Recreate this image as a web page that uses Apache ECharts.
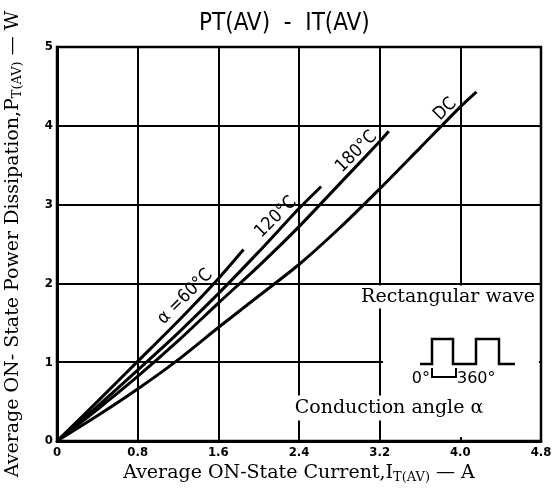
<!DOCTYPE html>
<html>
<head>
<meta charset="utf-8">
<script src="https://cdn.jsdelivr.net/npm/echarts@6/dist/echarts.min.js"></script>
<style>
  html, body { margin: 0; padding: 0; background: #fff; }
  #chart { width: 553px; height: 493px; }
</style>
</head>
<body>
<div id="chart"></div>
<script>
// 读图得到的曲线数据 (I_T(AV) [A], P_T(AV) [W])
var xTicks = [0, 0.8, 1.6, 2.4, 3.2, 4.0, 4.8];
var yTicks = [0, 1, 2, 3, 4, 5];

var curve60 = [[0, 0], [0.4, 0.5], [0.8, 1.01], [1.2, 1.52], [1.6, 2.06], [1.85, 2.43]];
var curve120 = [[0, 0], [0.4, 0.44], [0.8, 0.9], [1.2, 1.37], [1.6, 1.87], [2.0, 2.4], [2.4, 2.95], [2.62, 3.23]];
var curve180 = [[0, 0], [0.4, 0.4], [0.8, 0.82], [1.2, 1.27], [1.6, 1.75], [2.0, 2.22], [2.4, 2.72], [2.8, 3.26], [3.2, 3.8], [3.29, 3.93]];
var curveDC = [[0, 0], [0.4, 0.32], [0.8, 0.66], [1.2, 1.03], [1.6, 1.44], [2.0, 1.84], [2.4, 2.24], [2.8, 2.7], [3.2, 3.2], [3.6, 3.72], [4.0, 4.24], [4.16, 4.43]];

// 曲线标签的位置 (数据坐标)
var curveNames = ['α =60°C', '120°C', '180°C', 'DC'];
var labelAt = [[1.27, 1.83], [2.17, 2.84], [2.97, 3.67], [3.85, 4.21]];

var chart = echarts.init(document.getElementById('chart'));

function lineSeries(name, data) {
	return {
		name: name,
		type: 'line',
		data: data,
		smooth: 0.25,
		symbol: 'none',
		lineStyle: { color: '#000', width: 3 },
		z: 3,
		silent: true
	};
}

var serif = '"DejaVu Serif", "Liberation Serif", serif';
var cond = '"DejaVu Sans Condensed", "DejaVu Sans", sans-serif';

var option = {
	animation: false,
	backgroundColor: '#fff',
	title: {
		text: 'PT(AV)  -  IT(AV)',
		left: 194,
		top: 7,
		textStyle: { fontFamily: cond, fontWeight: 'normal', fontSize: 24, color: '#000' }
	},
	grid: {
		left: 57, top: 47, right: 12, bottom: 52,
		outerBoundsMode: 'none',
		show: true, borderColor: '#000', borderWidth: 2.5
	},
	xAxis: {
		type: 'value',
		min: 0, max: 4.8, interval: 0.8,
		name: 'Average ON-State Current,I{sub|T(AV)} — A',
		nameLocation: 'middle',
		nameGap: 21,
		nameTextStyle: {
			fontFamily: serif, fontSize: 19, color: '#000',
			rich: { sub: { fontFamily: serif, fontSize: 13, color: '#000', padding: [8, 0, 0, 0] } }
		},
		axisLine: { lineStyle: { color: '#000', width: 3 } },
		axisTick: { show: false },
		splitLine: { lineStyle: { color: '#000', width: 2 } },
		axisLabel: {
			margin: 5, color: '#000', fontWeight: 'bold', fontSize: 13,
			fontFamily: cond,
			formatter: function (v) { return v === 0 ? '0' : v.toFixed(1); }
		}
	},
	yAxis: {
		type: 'value',
		min: 0, max: 5, interval: 1,
		name: 'Average ON- State Power Dissipation,P{sub|T(AV)} — W',
		nameLocation: 'middle',
		nameGap: 33,
		nameTextStyle: {
			fontFamily: serif, fontSize: 19, color: '#000',
			rich: { sub: { fontFamily: serif, fontSize: 13, color: '#000', padding: [8, 0, 0, 0] } }
		},
		axisLine: { show: true, lineStyle: { color: '#000', width: 3 } },
		axisTick: { show: false },
		splitLine: { lineStyle: { color: '#000', width: 2 } },
		axisLabel: {
			margin: 4, color: '#000', fontWeight: 'bold', fontSize: 13,
			fontFamily: cond
		}
	},
	series: [
		lineSeries('60', curve60),
		lineSeries('120', curve120),
		lineSeries('180', curve180),
		lineSeries('DC', curveDC)
	]
};

chart.setOption(option);

// 标签与矩形波示意
var graphics = [];
for (var i = 0; i < curveNames.length; i++) {
	var p = chart.convertToPixel({ gridIndex: 0 }, labelAt[i]);
	graphics.push({
		type: 'text',
		x: p[0], y: p[1],
		rotation: Math.PI / 4,
		z: 10,
		style: {
			text: curveNames[i],
			fill: '#000',
			font: '18px ' + cond,
			align: 'center',
			verticalAlign: 'middle'
		}
	});
}
// 擦掉注释区域内的网格线
graphics.push({ type: 'rect', shape: { x: 383, y: 287, width: 156, height: 150 }, style: { fill: '#fff' }, z: 5 });
graphics.push({
	type: 'text', x: 537, y: 297, z: 10,
	style: {
		text: 'Rectangular wave', fill: '#000', font: '19px ' + serif,
		align: 'right', verticalAlign: 'middle',
		backgroundColor: '#fff', padding: [2, 2, 2, 2]
	}
});
graphics.push({
	type: 'polyline', z: 10,
	shape: { points: [[420, 364], [432, 364], [432, 339], [453, 339], [453, 364], [476, 364], [476, 339], [499, 339], [499, 364], [515, 364]] },
	style: { stroke: '#000', lineWidth: 2.5, fill: null }
});
graphics.push({
	type: 'polyline', z: 10,
	shape: { points: [[432, 368], [432, 377], [456, 377], [456, 368]] },
	style: { stroke: '#000', lineWidth: 2, fill: null }
});
graphics.push({
	type: 'text', x: 430, y: 379, z: 10,
	style: { text: '0°', fill: '#000', font: '16px "DejaVu Sans", sans-serif', align: 'right', verticalAlign: 'middle' }
});
graphics.push({
	type: 'text', x: 457, y: 379, z: 10,
	style: { text: '360°', fill: '#000', font: '16px "DejaVu Sans", sans-serif', align: 'left', verticalAlign: 'middle' }
});
graphics.push({
	type: 'text', x: 389, y: 408, z: 10,
	style: {
		text: 'Conduction angle α', fill: '#000', font: '19px ' + serif,
		align: 'center', verticalAlign: 'middle',
		backgroundColor: '#fff', padding: [3, 4, 3, 4]
	}
});
chart.setOption({ graphic: graphics });
</script>
</body>
</html>
